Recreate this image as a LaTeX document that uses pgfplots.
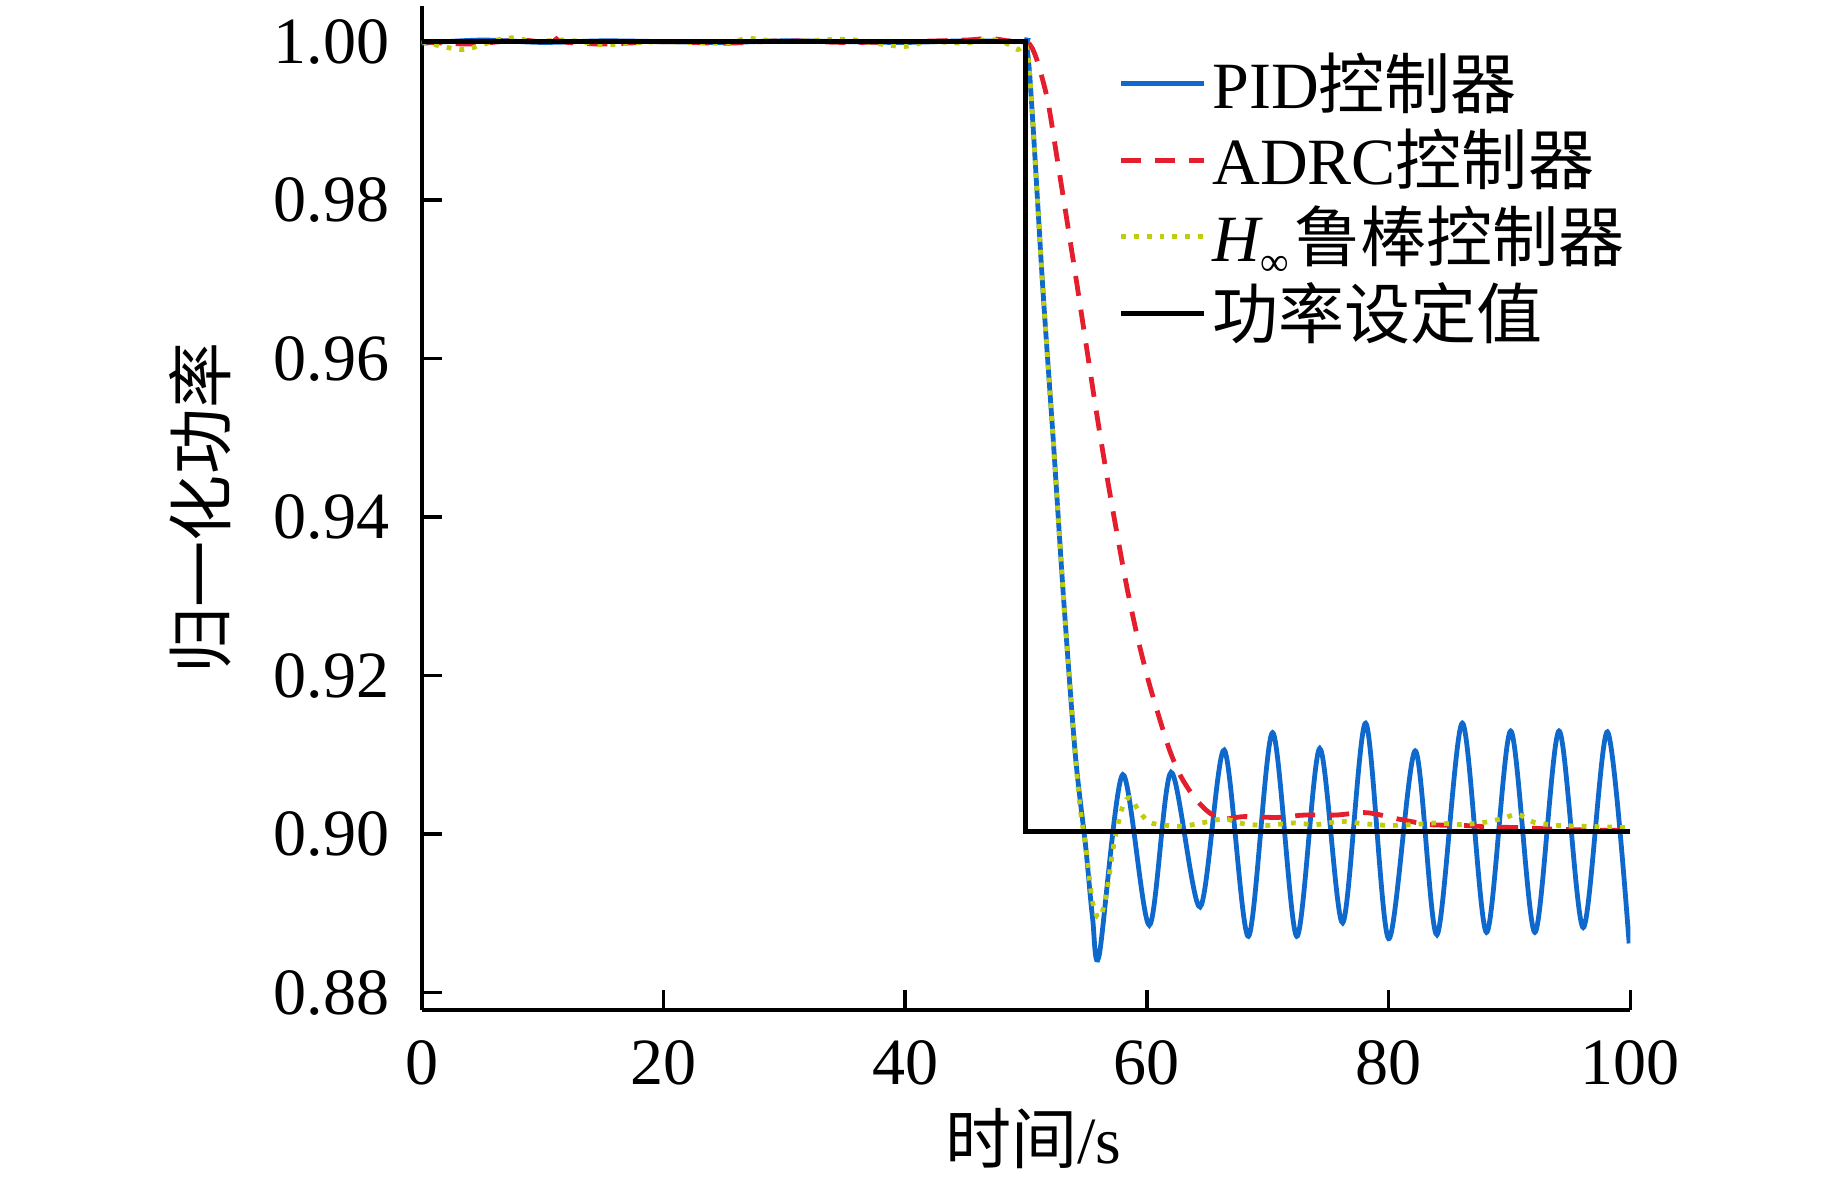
\documentclass[border=0pt]{standalone}
\usepackage{fontspec}
\setmainfont{Liberation Serif}
\newfontfamily\cjk{Noto Sans CJK SC}
\usepackage{pgfplots}
\pgfplotsset{compat=1.18}
\definecolor{pidblue}{RGB}{15,105,205}
\definecolor{adrcred}{RGB}{228,30,45}
\definecolor{hinfgreen}{RGB}{190,205,15}
\begin{document}
\begin{tikzpicture}
\begin{axis}[
  name=ax,
  scale only axis,
  width=301.8pt, height=250.7pt,
  xmin=0, xmax=100, ymin=0.8778, ymax=1.0045,
  axis lines*=left,
  axis line style={line width=0.9pt},
  tick align=inside,
  major tick length=5pt,
  tick style={line width=0.9pt, black},
  xtick={0,20,40,60,80,100},
  ytick={0.88,0.90,0.92,0.94,0.96,0.98,1.00},
  yticklabel style={/pgf/number format/fixed, /pgf/number format/fixed zerofill, /pgf/number format/precision=2, /pgf/number format/assume math mode=true, xshift=-4.5pt},
  xticklabel style={/pgf/number format/assume math mode=true, yshift=-4pt},
  ticklabel style={font=\fontsize{16.5}{18}\selectfont},
  xlabel={{\cjk 时间}/s},
  ylabel={{\cjk 归一化功率}},
  label style={font=\fontsize{16.5}{19}\selectfont},
  xlabel style={at={(axis description cs:0.506,-0.128)}, anchor=center},
  ylabel style={at={(axis description cs:-0.183,0.5)}, anchor=center},
  legend style={at={(axis description cs:0.566,0.968)}, anchor=north west, draw=none, fill=none,
    font=\fontsize{16.5}{19}\selectfont, nodes={inner sep=1.5pt}, row sep=0.7pt},
  legend cell align=left,
  legend image code/.code={\draw[#1] (0pt,0pt) -- (20.6pt,0pt);},
]
% PID
\addplot[pidblue, line width=1.2pt, smooth] coordinates {
(0,0.9998)(5,1.0002)(10,0.9999)(15,1.0001)(20,1.0)(25,0.9999)(30,1.0001)(35,1.0)(40,0.9999)(45,1.0001)(49.8,1.0)
(50,1.0)(50.28,0.9963)(50.7,0.9864)(51.41,0.9684)(52.25,0.9498)(53.1,0.9299)(54.08,0.9100)(54.93,0.8985)
(55.5,0.8895)(56.05,0.8847)
(58.0,0.9075)(60.2,0.8885)(62.0,0.9078)(64.4,0.8908)(66.4,0.9106)(68.4,0.8871)(70.4,0.9128)
(72.4,0.8871)(74.3,0.9108)(76.2,0.8888)(78.1,0.9140)(80.0,0.8868)(82.2,0.9105)(84.0,0.8873)
(86.1,0.9140)(88.1,0.8876)(90.1,0.9130)(92.1,0.8876)(94.1,0.9130)(96.1,0.8882)(98.1,0.9129)(99.9,0.8862)
};
\addlegendentry{PID{\cjk 控制器}}
% ADRC
\addplot[adrcred, line width=1.2pt, dash pattern=on 5pt off 3.5pt, smooth] coordinates {
(0,1.0)(4,0.9997)(8,1.0002)(10,1.0)(10.8,1.0008)(11.6,1.0)(15,0.9997)(20,1.0)(25,0.9998)(30,1.0001)
(35,0.9999)(40,1.0)(45,1.0002)(47,1.0004)(49,1.0)(50,1.0)
(50.5,0.9992)(51,0.9972)(51.8,0.9925)(52.6,0.9850)(53.4,0.9773)(54.2,0.9695)(55.0,0.9615)(55.8,0.9535)
(56.6,0.9460)(57.4,0.9390)(58.3,0.9315)(59.2,0.9250)(60.1,0.9195)(61.0,0.9148)(61.9,0.9105)(62.8,0.9073)
(63.9,0.9047)(65.0,0.9029)(66.2,0.9019)(68,0.9022)(70.8,0.9021)(73,0.9024)(75.6,0.9024)(78.2,0.9027)
(80.8,0.9019)(83.4,0.9012)(86,0.9011)(88.5,0.9009)(91,0.9008)(94.1,0.9006)(97,0.9005)(100,0.9005)
};
\addlegendentry{ADRC{\cjk 控制器}}
% H infinity
\addplot[hinfgreen, line width=1.2pt, dotted, smooth] coordinates {
(0,1.0)(2,0.9993)(3.5,0.9990)(5,0.9996)(6.5,1.0003)(8,1.0005)(9,1.0)(12,1.0002)(15,0.9996)(17,0.9998)
(20,1.0)(25,0.9998)(27,1.0004)(30,1.0)(35,1.0003)(38,0.9997)(40,0.9994)(42,1.0)(45,0.9998)(47,1.0003)
(48.5,0.9997)(49.3,0.9990)(49.8,0.9995)(50,0.9995)
(50.28,0.9963)(50.7,0.9864)(51.41,0.9684)(52.25,0.9498)(53.1,0.9299)(54.08,0.9100)(54.5,0.9030)
(54.93,0.8985)(55.5,0.8915)(56.05,0.8894)(56.6,0.8920)(57.3,0.8990)(58.0,0.9035)(58.6,0.9046)
(59.3,0.9030)(60.2,0.9015)(61.6,0.9011)(63,0.9010)(64.5,0.9014)(66.4,0.9019)(68,0.9013)(70,0.9011)
(72,0.9014)(74,0.9012)(76,0.9016)(78,0.9013)(80,0.9011)(82,0.9012)(84,0.9014)(86,0.9012)(88,0.9015)
(89.5,0.9020)(90.7,0.9025)(92,0.9015)(94,0.9011)(96,0.9010)(98,0.9009)(100,0.9008)
};
\addlegendentry{{\itshape H}\raisebox{-0.45ex}{\fontsize{10}{10}\selectfont ∞}\hspace{1.5pt}{\cjk 鲁棒控制器}}
% setpoint
\addplot[black, line width=1.3pt] coordinates {
(0,1.0)(49.95,1.0)(49.95,0.9003)(100,0.9003)
};
\addlegendentry{{\cjk 功率设定值}}
\end{axis}
\pgfresetboundingbox
\path (-105.3pt,-42.2pt) rectangle (354.9pt,252.2pt);
\end{tikzpicture}
\end{document}
